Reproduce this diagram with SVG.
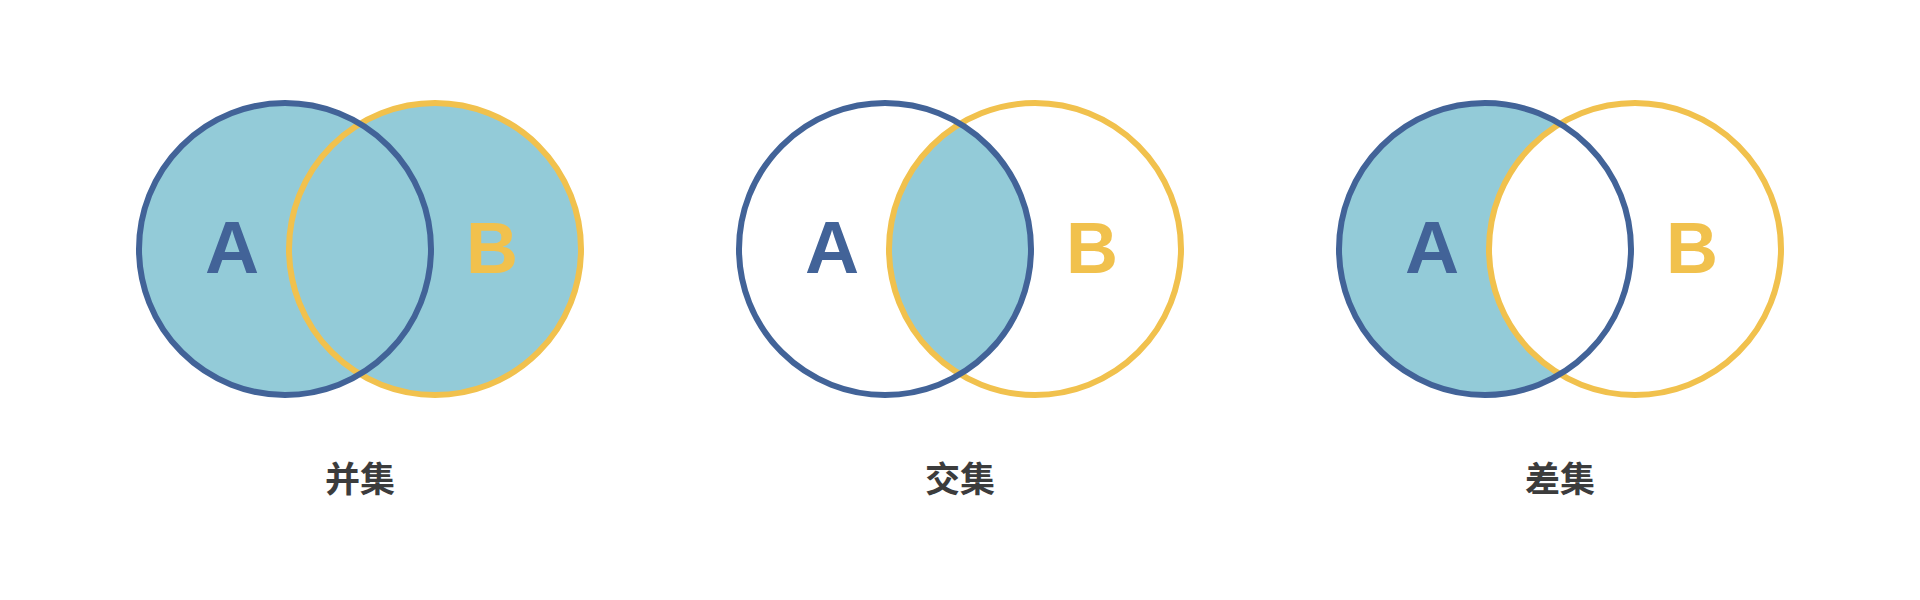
<svg xmlns="http://www.w3.org/2000/svg" width="1920" height="600" viewBox="0 0 1920 600">
<style>
.fill{fill:#93CBD8;}
.ca{fill:none;stroke:#426398;stroke-width:6;}
.cb{fill:none;stroke:#F1C14D;stroke-width:6;}
.la{font-family:"Liberation Sans",Arial,sans-serif;font-weight:bold;font-size:75px;fill:#426398;text-anchor:middle;}
.lb{font-family:"Liberation Sans",Arial,sans-serif;font-weight:bold;font-size:72px;fill:#F1C14D;text-anchor:middle;}
.cap{font-family:"Noto Sans CJK SC","Noto Sans",sans-serif;font-weight:bold;font-size:35px;fill:#3C3C3C;text-anchor:middle;}
</style>
<defs>
<clipPath id="clipB2"><circle cx="1035" cy="249" r="146"/></clipPath>
<mask id="maskNotB3"><rect x="0" y="0" width="1920" height="600" fill="#fff"/><circle cx="1635" cy="249" r="146" fill="#000"/></mask>
</defs>
<rect width="1920" height="600" fill="#ffffff"/>
<g id="union">
<circle class="fill" cx="285" cy="249" r="146"/>
<circle class="fill" cx="435" cy="249" r="146"/>
<circle class="cb" cx="435" cy="249" r="146"/>
<circle class="ca" cx="285" cy="249" r="146"/>
<text class="la" x="232" y="273">A</text>
<text class="lb" x="492" y="273">B</text>
<text class="cap" x="360" y="492">并集</text>
</g>
<g id="intersection">
<circle class="fill" cx="885" cy="249" r="146" clip-path="url(#clipB2)"/>
<circle class="cb" cx="1035" cy="249" r="146"/>
<circle class="ca" cx="885" cy="249" r="146"/>
<text class="la" x="832" y="273">A</text>
<text class="lb" x="1092" y="273">B</text>
<text class="cap" x="960" y="492">交集</text>
</g>
<g id="difference">
<circle class="fill" cx="1485" cy="249" r="146" mask="url(#maskNotB3)"/>
<circle class="cb" cx="1635" cy="249" r="146"/>
<circle class="ca" cx="1485" cy="249" r="146"/>
<text class="la" x="1432" y="273">A</text>
<text class="lb" x="1692" y="273">B</text>
<text class="cap" x="1560" y="492">差集</text>
</g>
<g id="connectors"></g>
</svg>
